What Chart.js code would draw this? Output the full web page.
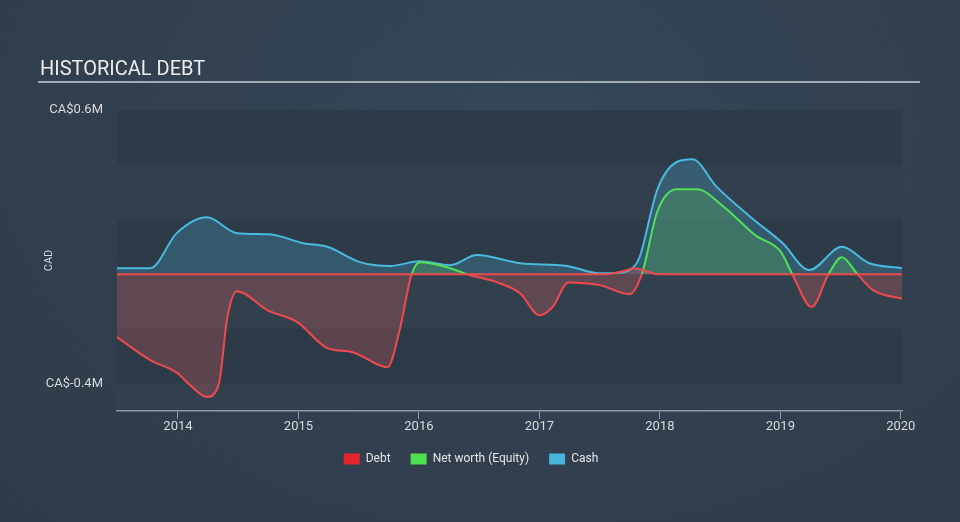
<!DOCTYPE html>
<html>
<head>
<meta charset="utf-8">
<title>Historical Debt</title>
<script src="https://cdn.jsdelivr.net/npm/chart.js@4.4.1/dist/chart.umd.min.js"></script>
<style>
    html, body { margin: 0; padding: 0; }
    body {
        width: 960px;
        height: 522px;
        overflow: hidden;
        background: radial-gradient(ellipse at 55% 25%, #35475a 0%, #323f4e 55%, #2f3b48 100%);
    }
    #wrap { position: relative; width: 960px; height: 522px; }
</style>
</head>
<body>
<div id="wrap"><canvas id="debtChart"></canvas></div>
<script>
// x = year (decimal), y = CA$ millions
const debtYears = [2013.49, 2017.55, 2017.70, 2017.79, 2017.88, 2017.98, 2020.01];
const debtValues = [0, 0, 0.012, 0.022, 0.012, 0, 0];

const equityYears = [2013.49, 2013.77, 2013.99, 2014.10, 2014.24, 2014.34, 2014.41, 2014.49,
    2014.74, 2014.99, 2015.24, 2015.45, 2015.74, 2015.84, 2015.94, 2016.01, 2016.26, 2016.40,
    2016.67, 2016.84, 2017.00, 2017.11, 2017.24, 2017.50, 2017.75, 2017.85, 2017.98, 2018.14,
    2018.31, 2018.52, 2018.80, 2019.00, 2019.10, 2019.26, 2019.40, 2019.51, 2019.64, 2019.77,
    2020.01];
const equityValues = [-0.229, -0.314, -0.36, -0.405, -0.449, -0.40, -0.157, -0.062,
    -0.131, -0.175, -0.27, -0.285, -0.34, -0.204, 0, 0.044, 0.022, 0,
    -0.033, -0.07, -0.15, -0.12, -0.03, -0.04, -0.073, 0, 0.23, 0.31,
    0.31, 0.25, 0.14, 0.084, 0, -0.12, 0, 0.062, 0, -0.058,
    -0.09];

const cashYears = [2013.49, 2013.77, 2013.99, 2014.24, 2014.49, 2014.76, 2015.04, 2015.24,
    2015.51, 2015.76, 2016.01, 2016.26, 2016.48, 2016.84, 2017.23, 2017.50, 2017.64, 2017.78,
    2017.83, 2017.98, 2018.14, 2018.27, 2018.47, 2018.75, 2019.02, 2019.24, 2019.51, 2019.74,
    2020.01];
const cashValues = [0.022, 0.022, 0.15, 0.208, 0.15, 0.146, 0.113, 0.10,
    0.044, 0.03, 0.047, 0.033, 0.07, 0.04, 0.03, 0.003, 0.004, 0.025,
    0.06, 0.31, 0.41, 0.42, 0.32, 0.21, 0.113, 0.015, 0.10, 0.04,
    0.022];

const xTickYears = [2014, 2015, 2016, 2017, 2018, 2019, 2020];
const yBandEdges = [-0.4, -0.2, 0, 0.2, 0.4, 0.6];
const yLabelledTicks = [0.6, -0.4];

const seriesNames = ['Debt', 'Net worth (Equity)', 'Cash'];
const legendColors = ['#e3262c', '#4ddf4f', '#47b5dc'];

const RED = '#f0494c';
const GREEN = '#4fe256';
const BLUE = '#4ab9de';
const TEXT = '#d8dadd';
const AXIS = '#8e9aab';

document.addEventListener('DOMContentLoaded', function () {
    createDebtChart();
});

function toPoints(xs, ys) {
    return xs.map((x, i) => ({ x: x, y: ys[i] }));
}

// green above zero, red below
function signColor(context) {
    const chart = context.chart;
    const area = chart.chartArea;
    if (!area) return GREEN;
    const zero = chart.scales.y.getPixelForValue(0);
    let stop = (zero - area.top) / (area.bottom - area.top);
    stop = Math.min(1, Math.max(0, stop));
    const g = chart.ctx.createLinearGradient(0, area.top, 0, area.bottom);
    g.addColorStop(0, GREEN);
    g.addColorStop(stop, GREEN);
    g.addColorStop(stop, RED);
    g.addColorStop(1, RED);
    return g;
}

const plotBands = {
    id: 'plotBands',
    beforeDraw(chart) {
        const { ctx, chartArea, scales } = chart;
        if (!chartArea) return;
        const y = scales.y;
        ctx.save();
        ctx.fillStyle = '#323f4d';
        ctx.fillRect(chartArea.left, chartArea.top, chartArea.width, chartArea.height);
        ctx.fillStyle = '#2d3a47';
        for (let i = yBandEdges.length - 1; i > 0; i -= 2) {
            const top = y.getPixelForValue(yBandEdges[i]);
            const bottom = y.getPixelForValue(yBandEdges[i - 1]);
            ctx.fillRect(chartArea.left, top, chartArea.width, bottom - top);
        }
        ctx.restore();
    },
    afterDraw(chart) {
        // rule under the title
        const { ctx, titleBlock } = chart;
        ctx.save();
        ctx.strokeStyle = '#a3abb5';
        ctx.lineWidth = 2;
        ctx.beginPath();
        ctx.moveTo(titleBlock.left - 2, titleBlock.top + 24);
        ctx.lineTo(920, titleBlock.top + 24);
        ctx.stroke();
        ctx.restore();
    }
};

function createDebtChart() {
    const ctx = document.getElementById('debtChart').getContext('2d');
    new Chart(ctx, {
        type: 'line',
        data: {
            datasets: [{
                label: seriesNames[0],
                data: toPoints(debtYears, debtValues),
                borderColor: RED,
                backgroundColor: 'rgba(220,95,100,0.3)',
                fill: 'origin',
                borderWidth: 2
            }, {
                label: seriesNames[1],
                data: toPoints(equityYears, equityValues),
                borderColor: signColor,
                fill: {
                    target: 'origin',
                    above: 'rgba(91,194,86,0.25)',
                    below: 'rgba(220,95,100,0.27)'
                },
                borderWidth: 2
            }, {
                label: seriesNames[2],
                data: toPoints(cashYears, cashValues),
                borderColor: BLUE,
                backgroundColor: 'rgba(74,184,220,0.25)',
                fill: 'origin',
                borderWidth: 2
            }]
        },
        options: {
            responsive: true,
            maintainAspectRatio: false,
            animation: false,
            layout: { padding: { top: 58, left: 40, right: 58, bottom: 47 } },
            elements: {
                point: { radius: 0 },
                line: { cubicInterpolationMode: 'monotone' }
            },
            plugins: {
                title: {
                    display: true,
                    text: 'HISTORICAL DEBT',
                    align: 'start',
                    color: '#ececec',
                    font: { family: 'Roboto', size: 20, weight: 'normal' },
                    padding: { top: 0, bottom: 28 }
                },
                legend: {
                    position: 'bottom',
                    labels: {
                        color: '#e6e6e6',
                        font: { family: 'Roboto', size: 12 },
                        boxWidth: 16,
                        boxHeight: 11,
                        padding: 20,
                        generateLabels: chart => chart.data.datasets.map((ds, i) => ({
                            text: ds.label,
                            fillStyle: legendColors[i],
                            strokeStyle: legendColors[i],
                            lineWidth: 0,
                            fontColor: '#e6e6e6',
                            datasetIndex: i
                        }))
                    }
                },
                tooltip: { enabled: false }
            },
            scales: {
                x: {
                    type: 'linear',
                    min: 2013.494,
                    max: 2020.01,
                    afterBuildTicks: scale => {
                        scale.ticks = xTickYears.map(v => ({ value: v }));
                    },
                    afterFit: scale => { scale.height = 22; },
                    grid: {
                        display: true,
                        drawOnChartArea: false,
                        drawTicks: true,
                        tickLength: 8,
                        color: AXIS
                    },
                    border: { display: true, color: AXIS, width: 1.5 },
                    ticks: {
                        color: TEXT,
                        font: { family: 'Roboto', size: 13 },
                        padding: 0,
                        maxRotation: 0,
                        callback: v => String(v)
                    }
                },
                y: {
                    min: -0.5,
                    max: 0.6,
                    afterBuildTicks: scale => {
                        scale.ticks = yBandEdges.map(v => ({ value: v }));
                    },
                    afterFit: scale => { scale.width = 77; },
                    grid: { display: false, drawTicks: false },
                    border: { display: false },
                    title: {
                        display: true,
                        text: 'CAD',
                        color: TEXT,
                        font: { family: 'Roboto', size: 11 },
                        padding: { top: 3, bottom: 0 }
                    },
                    ticks: {
                        color: TEXT,
                        font: { family: 'Roboto', size: 13 },
                        padding: 14,
                        crossAlign: 'near',
                        callback: v => yLabelledTicks.some(t => Math.abs(t - v) < 1e-6)
                            ? 'CA$' + v.toFixed(1) + 'M' : ''
                    }
                }
            }
        },
        plugins: [plotBands]
    });
}
</script>
</body>
</html>
